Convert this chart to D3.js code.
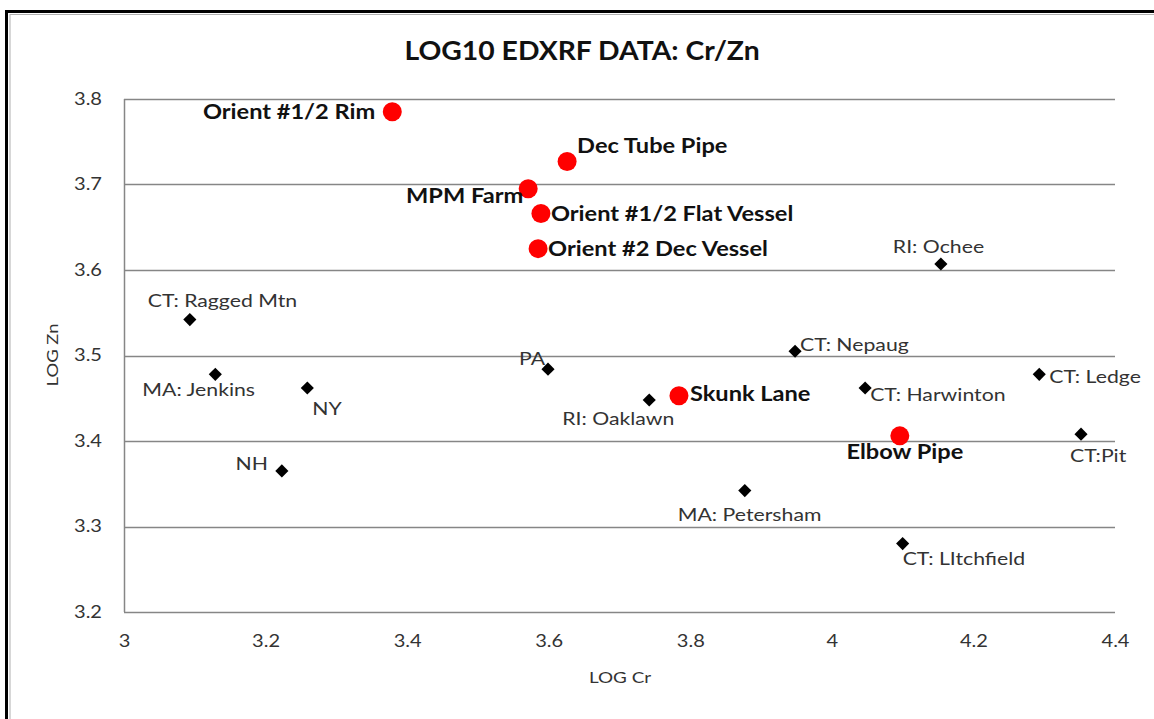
<!DOCTYPE html>
<html>
<head>
<meta charset="utf-8">
<title>LOG10 EDXRF DATA: Cr/Zn</title>
<script src="https://cdn.jsdelivr.net/npm/d3@7/dist/d3.min.js"></script>
<style>
    html, body {margin: 0; padding: 0; background: #fff;}
    svg {display: block; font-family: Lato, "Open Sans", sans-serif;}
</style>
</head>
<body>
<div id="container"></div>
<script>
// artifacts (red dots)
const artifactNames = ['Orient #1/2 Rim', 'Dec Tube Pipe', 'MPM Farm', 'Orient #1/2 Flat Vessel',
    'Orient #2 Dec Vessel', 'Skunk Lane', 'Elbow Pipe'];
const artifactCr = [3.379, 3.626, 3.571, 3.589, 3.585, 3.784, 4.096];
const artifactZn = [3.785, 3.727, 3.695, 3.666, 3.625, 3.453, 3.406];

// ore sources (black diamonds)
const sourceNames = ['CT: Ragged  Mtn', 'MA: Jenkins', 'NY', 'NH', 'PA', 'RI: Oaklawn', 'CT: Nepaug',
    'CT: Harwinton', 'CT: Ledge', 'CT:Pit', 'MA: Petersham', 'CT: LItchfield', 'RI: Ochee'];
const sourceCr = [3.093, 3.129, 3.259, 3.223, 3.599, 3.742, 3.948, 4.047, 4.293, 4.352, 3.877, 4.100, 4.154];
const sourceZn = [3.542, 3.478, 3.462, 3.365, 3.484, 3.448, 3.505, 3.462, 3.478, 3.408, 3.342, 3.280, 3.607];

const xTicks = [3, 3.2, 3.4, 3.6, 3.8, 4, 4.2, 4.4];
const yTicks = [3.2, 3.3, 3.4, 3.5, 3.6, 3.7, 3.8];

// label placement: [dx, dy, anchor]
const artifactLabelPos = [[-17, 7, 'end'], [10, -8, 'start'], [-5, 14, 'end'], [10, 7, 'start'],
    [10, 7, 'start'], [11, 5, 'start'], [5, 23, 'middle']];
const sourceLabelPos = [[-42, -13, 'start'], [-73, 22, 'start'], [5, 27, 'start'], [-14, -1, 'end'],
    [-3, -4, 'end'], [-87, 25, 'start'], [5, 0, 'start'], [5, 13, 'start'], [10, 9, 'start'],
    [-11, 28, 'start'], [-67, 30, 'start'], [0, 21, 'start'], [-48, -11, 'start']];

const w = 1154;
const h = 719;
const margin = {top: 99, left: 124, right: 39, bottom: 107};

// the original text is a bit stretched horizontally
const stretch = 1.18;

const svg = d3.select('#container')
    .append('svg')
    .attr('width', w)
    .attr('height', h);

// outer frame
svg.append('rect')
    .attr('x', 6.5).attr('y', 11.5)
    .attr('width', w + 20).attr('height', h + 20)
    .attr('fill', 'none').attr('stroke', '#000').attr('stroke-width', 3);
svg.append('rect')
    .attr('x', 10).attr('y', 14.5)
    .attr('width', w + 20).attr('height', h + 20)
    .attr('fill', 'none').attr('stroke', '#b0b0b0').attr('stroke-width', 1);

const x = d3.scaleLinear().domain([3, 4.4]).range([margin.left, w - margin.right]);
const y = d3.scaleLinear().domain([3.2, 3.8]).range([h - margin.bottom, margin.top]);

// gridlines
svg.append('g')
    .selectAll('line')
    .data(yTicks)
    .join('line')
    .attr('x1', x(3)).attr('x2', x(4.4))
    .attr('y1', d => Math.round(y(d)) + 0.5).attr('y2', d => Math.round(y(d)) + 0.5)
    .attr('stroke', '#868686').attr('stroke-width', 1.5);

// left axis line
svg.append('line')
    .attr('x1', Math.round(x(3)) + 0.5).attr('x2', Math.round(x(3)) + 0.5)
    .attr('y1', y(3.8)).attr('y2', y(3.2))
    .attr('stroke', '#868686').attr('stroke-width', 1.5);

// stretched text helper
function label(g, tx, ty, str, size, bold, anchor) {
    return g.append('text')
        .attr('transform', `translate(${tx}, ${ty}) scale(${stretch}, 1)`)
        .attr('text-anchor', anchor || 'start')
        .attr('font-size', size)
        .attr('font-weight', bold ? 'bold' : 'normal')
        .attr('fill', bold ? '#111' : '#333')
        .text(str);
}

// axes labels via d3 axes (no ticks/domain)
const xAxis = svg.append('g')
    .attr('transform', `translate(0, ${y(3.2) + 20})`)
    .call(d3.axisBottom(x).tickValues(xTicks).tickSize(0).tickFormat(d3.format('')));
xAxis.select('.domain').remove();
xAxis.selectAll('text')
    .attr('font-family', 'Lato, sans-serif').attr('font-size', 17).attr('fill', '#333')
    .attr('transform', `scale(${stretch}, 1)`);

const yAxis = svg.append('g')
    .attr('transform', `translate(${x(3) - 22}, 0)`)
    .call(d3.axisLeft(y).tickValues(yTicks).tickSize(0).tickFormat(d3.format('.1f')));
yAxis.select('.domain').remove();
yAxis.selectAll('text')
    .attr('font-family', 'Lato, sans-serif').attr('font-size', 17).attr('fill', '#333')
    .attr('x', 0)
    .attr('transform', `scale(${stretch}, 1)`);

// title
label(svg, 582, 60, 'LOG10 EDXRF DATA: Cr/Zn', 26, true, 'middle').attr('transform', 'translate(582, 60) scale(1.09, 1)');

// axis titles
label(svg, 620, 683, 'LOG Cr', 16, false, 'middle');
svg.append('text')
    .attr('transform', 'translate(58, 355) rotate(-90) scale(1.15, 1)')
    .attr('text-anchor', 'middle')
    .attr('font-size', 16).attr('fill', '#333')
    .text('LOG Zn');

// sources: diamonds
const sources = sourceNames.map((n, i) => ({name: n, cr: sourceCr[i], zn: sourceZn[i], pos: sourceLabelPos[i]}));
const sg = svg.append('g');
sg.selectAll('path')
    .data(sources)
    .join('path')
    .attr('d', d3.symbol(d3.symbolDiamond2, 110))
    .attr('transform', d => `translate(${x(d.cr)}, ${y(d.zn)})`)
    .attr('fill', '#000');
sources.forEach(d => label(sg, x(d.cr) + d.pos[0], y(d.zn) + d.pos[1], d.name, 18, false, d.pos[2]));

// artifacts: red circles
const artifacts = artifactNames.map((n, i) => ({name: n, cr: artifactCr[i], zn: artifactZn[i], pos: artifactLabelPos[i]}));
const ag = svg.append('g');
ag.selectAll('circle')
    .data(artifacts)
    .join('circle')
    .attr('cx', d => x(d.cr))
    .attr('cy', d => y(d.zn))
    .attr('r', 9.5)
    .attr('fill', '#ff0000');
artifacts.forEach(d => label(ag, x(d.cr) + d.pos[0], y(d.zn) + d.pos[1], d.name, 20, true, d.pos[2]));
</script>
</body>
</html>
